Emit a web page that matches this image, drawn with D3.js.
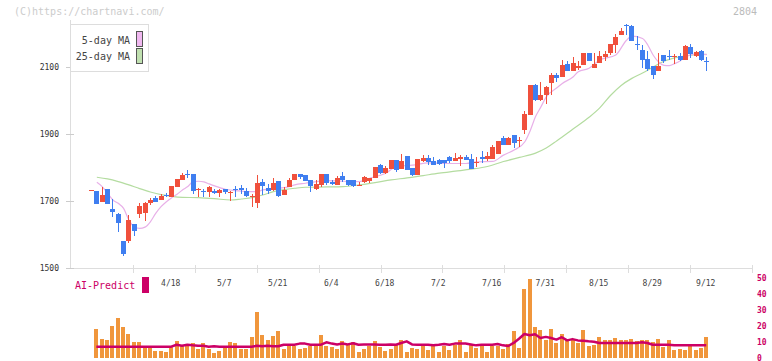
<!DOCTYPE html>
<html><head><meta charset="utf-8">
<script src="https://cdn.jsdelivr.net/npm/d3@7"></script>
<style>body{margin:0;background:#fff}svg{display:block}text{font-family:"DejaVu Sans Mono",monospace}</style>
</head><body><svg id="c" width="772" height="361"></svg>
<script>
const opens=[1732,1730,1698,1736,1676,1661,1581,1581,1631,1661,1665,1695,1710,1703,1719,1713,1743,1764,1780,1780,1732,1730,1728,1731,1725,1736,1723,1736,1739,1730,1713,1695,1758,1738,1733,1760,1718,1743,1763,1780,1777,1763,1736,1748,1780,1757,1749,1774,1762,1762,1746,1756,1761,1769,1807,1783,1797,1822,1796,1834,1799,1779,1818,1828,1820,1821,1822,1831,1820,1826,1832,1826,1814,1832,1826,1825,1840,1887,1868,1897,1879,1912,1957,2046,2001,2016,2053,2076,2071,2109,2089,2097,2107,2142,2097,2112,2129,2142,2167,2197,2226,2223,2169,2151,2124,2102,2089,2135,2132,2132,2134,2122,2160,2132,2149,2117];
const highs=[1733,1731,1741,1737,1706,1665,1582,1658,1632,1695,1696,1710,1716,1722,1725,1746,1767,1784,1793,1781,1738,1735,1746,1735,1736,1737,1729,1745,1748,1738,1720,1778,1765,1751,1769,1761,1743,1770,1781,1781,1778,1764,1763,1782,1781,1764,1774,1787,1763,1763,1757,1776,1770,1802,1810,1803,1823,1823,1840,1835,1800,1826,1836,1836,1831,1826,1823,1835,1842,1837,1837,1839,1830,1849,1846,1867,1880,1894,1890,1898,1892,1969,2047,2049,2056,2042,2081,2081,2121,2118,2129,2117,2143,2143,2142,2147,2149,2170,2199,2215,2229,2224,2192,2165,2147,2103,2142,2136,2151,2139,2142,2166,2169,2149,2150,2129];
const lows=[1732,1691,1697,1691,1653,1608,1537,1576,1596,1648,1640,1689,1697,1702,1713,1712,1742,1763,1768,1722,1713,1713,1713,1721,1713,1722,1700,1711,1720,1713,1683,1680,1718,1720,1730,1713,1717,1742,1762,1766,1759,1728,1733,1743,1748,1747,1748,1757,1744,1743,1746,1755,1754,1768,1780,1782,1796,1788,1795,1792,1774,1778,1817,1806,1807,1808,1800,1812,1819,1804,1821,1795,1802,1812,1820,1824,1839,1867,1867,1859,1862,1900,1956,2000,2000,1990,2016,2056,2070,2088,2088,2092,2106,2118,2096,2111,2119,2135,2142,2196,2197,2177,2152,2097,2089,2065,2088,2112,2122,2109,2119,2121,2127,2131,2117,2087];
const closes=[1733,1692,1718,1692,1668,1633,1543,1643,1611,1685,1695,1703,1698,1716,1714,1745,1766,1778,1777,1731,1735,1726,1742,1725,1733,1728,1728,1734,1733,1716,1715,1755,1746,1730,1754,1715,1733,1763,1780,1771,1760,1745,1751,1781,1753,1751,1769,1764,1749,1744,1747,1771,1769,1801,1784,1798,1822,1793,1820,1793,1779,1825,1828,1816,1808,1810,1812,1820,1829,1831,1822,1796,1817,1825,1833,1862,1879,1868,1888,1874,1883,1960,2046,2001,2016,2041,2076,2066,2106,2089,2112,2102,2142,2119,2109,2132,2139,2169,2190,2208,2223,2178,2167,2122,2095,2075,2104,2119,2129,2134,2122,2164,2140,2146,2122,2115];
const volumes=[null,
17.9,11.7,11.0,19.8,24.8,19.2,14.8,9.8,9.8,7.3,
7.3,4.2,4.2,3.5,7.3,10.4,7.9,7.9,9.2,5.4,
9.2,5.4,2.9,4.2,7.3,9.8,9.2,5.4,5.4,12.9,
28.5,14.2,11.0,13.5,16.7,5.4,7.3,7.3,5.4,6.0,
7.3,7.3,14.2,7.3,6.7,5.4,10.4,7.9,9.8,3.5,
5.4,7.3,10.4,6.7,4.2,5.4,8.3,11.0,3.5,6.0,
5.4,7.3,4.8,7.3,3.5,7.3,4.8,7.9,11.0,3.5,
7.9,6.0,7.9,3.5,7.3,7.3,5.4,8.5,16.7,6.0,
42.9,49.2,19.2,17.3,11.5,17.9,9.2,14.8,11.0,11.0,
9.2,17.3,7.3,7.9,12.9,11.0,11.0,12.3,11.5,11.0,
11.7,10.6,11.0,11.0,9.8,11.7,6.9,11.0,4.8,5.4,
4.8,7.3,4.8,6.0,12.9];
const predict=[null,
7.1,7.1,7.1,7.1,7.1,7.1,7.1,7.1,7.1,7.1,
7.1,7.1,7.1,7.1,7.1,8.3,7.6,8.3,7.9,7.6,
7.6,7.1,7.3,7.1,7.1,7.1,7.1,7.1,7.1,7.1,
7.6,7.3,7.6,7.3,7.3,8.3,8.3,8.3,9.0,9.0,
8.3,8.3,8.3,9.8,9.0,8.5,9.0,8.5,9.2,8.3,
8.5,8.5,8.5,8.3,8.3,8.5,8.3,9.4,10.4,8.5,
8.3,8.3,8.3,7.9,8.3,8.8,8.3,9.0,9.0,9.0,
8.5,7.9,8.3,8.3,8.3,8.8,7.9,7.5,9.4,12.0,
15.0,14.2,14.8,12.5,13.2,12.5,11.5,13.0,11.0,11.8,
11.0,10.8,10.4,10.2,9.4,9.4,9.4,9.4,9.4,9.4,
9.4,9.4,9.8,9.4,8.3,8.3,8.3,8.3,7.9,7.9,
7.9,7.9,7.9,7.9,7.9];
const ma5Idx=[1,2,3,4,5,6,7,8,9,10,11,12,13,14,15,16,17,18,19,20,21,22,23,25,27,29,31,32,35,37,38,40,42,44,47,50,52,55,57,60,63,66,70,72,75,77,79,81,82,83,84,85,87,88,90,91,93,95,98,100,101,103,104,105,106,107,108,109,110,111,112,113,115];
const ma5Val=[1756,1743,1723,1703,1693,1678,1643,1623,1618,1622,1638,1663,1683,1698,1710,1720,1733,1743,1758,1759,1757,1751,1745,1735,1731,1728,1728,1733,1738,1743,1748,1753,1758,1761,1759,1758,1768,1783,1803,1807,1814,1812,1812,1817,1818,1837,1852,1877,1910,1952,1981,2011,2038,2051,2070,2086,2096,2121,2136,2180,2192,2185,2165,2135,2115,2105,2104,2110,2118,2130,2136,2139,2137];
const ma25Idx=[1,3,5,7,9,11,13,15,17,20,23,26,28,30,32,34,36,38,40,44,47,50,53,56,59,62,65,68,71,74,77,80,83,85,87,90,93,95,97,99,101,103,105,107,109,112,115];
const ma25Val=[1771,1766,1758,1748,1737,1727,1719,1714,1711,1710,1707,1703,1706,1710,1718,1728,1734,1738,1741,1742,1743,1748,1755,1763,1769,1776,1783,1789,1795,1803,1818,1830,1843,1858,1880,1915,1950,1978,2015,2045,2066,2082,2100,2117,2127,2135,2138];
const xTickIdx=[15,25,35,45,55,65,75,85,95,105,115];
const xTickLabels=["4/18","5/7","5/21","6/4","6/18","7/2","7/16","7/31","8/15","8/29","9/12"];
const yTicks=[1500,1700,1900,2100];
const volTicks=[0,10,20,30,40,50];

const RED="#f0503c", BLUE="#3f7ef0", ORANGE="#f0963c", MAG="#cc0066";
const svg=d3.select("#c");
svg.append("rect").attr("width",772).attr("height",361).attr("fill","#fff");
const x=d3.scaleLinear().domain([0,115]).range([91.5,706.75]);
const y=d3.scaleLinear().domain([1500,2100]).range([268,67]);
const yv=d3.scaleLinear().domain([0,50]).range([358,278]);
const grid=d3.scaleLinear().domain([0,11]).range([71,752]);
const fx=i=>Math.floor(x(i));

// watermark
svg.append("text").attr("x",14).attr("y",12).attr("dominant-baseline","middle").attr("font-size",10).attr("fill","#ccc").text("(C)https://chartnavi.com/");
svg.append("text").attr("x",757).attr("y",12).attr("dominant-baseline","middle").attr("text-anchor","end").attr("font-size",10).attr("fill","#bbb").text("2804");

// axes
svg.append("line").attr("x1",70.5).attr("x2",70.5).attr("y1",20).attr("y2",268).attr("stroke","#ddd");
svg.append("line").attr("x1",70).attr("x2",752).attr("y1",268.5).attr("y2",268.5).attr("stroke","#ddd");
svg.selectAll(".gt").data(d3.range(1,12)).join("line")
  .attr("x1",d=>Math.round(grid(d))+0.5).attr("x2",d=>Math.round(grid(d))+0.5)
  .attr("y1",265).attr("y2",273).attr("stroke","#ddd");
svg.selectAll(".yt").data(yTicks).join("line")
  .attr("x1",66).attr("x2",74).attr("y1",d=>Math.round(y(d))+0.5).attr("y2",d=>Math.round(y(d))+0.5).attr("stroke","#ccc");
svg.selectAll(".yl").data(yTicks).join("text")
  .attr("x",59).attr("y",d=>y(d)).attr("dominant-baseline","middle").attr("text-anchor","end")
  .attr("font-size",8).attr("fill","#333").text(d=>d);
svg.selectAll(".xl").data(xTickIdx).join("text")
  .attr("x",d=>x(d)-1).attr("y",283).attr("dominant-baseline","middle").attr("text-anchor","middle")
  .attr("font-size",8).attr("fill","#444").text((d,i)=>xTickLabels[i]);

// MA lines
const maLine=d3.line().x(d=>x(d[0])).y(d=>y(d[1])).curve(d3.curveMonotoneX);
svg.append("path").attr("d",maLine(ma25Idx.map((d,i)=>[d,ma25Val[i]]))).attr("fill","none").attr("stroke","#b4dca0").attr("stroke-width",1.2);
svg.append("path").attr("d",maLine(ma5Idx.map((d,i)=>[d,ma5Val[i]]))).attr("fill","none").attr("stroke","#e8b0e8").attr("stroke-width",1.2);

// candles
const idx=d3.range(opens.length);
const g=svg.append("g").attr("shape-rendering","crispEdges");
g.selectAll(".w").data(idx).join("line")
  .attr("x1",i=>fx(i)+0.5).attr("x2",i=>fx(i)+0.5)
  .attr("y1",i=>y(highs[i])).attr("y2",i=>y(lows[i]))
  .attr("stroke",i=>closes[i]>=opens[i]?RED:BLUE);
g.selectAll(".b").data(idx).join("rect")
  .attr("x",i=>fx(i)-2).attr("width",5)
  .attr("y",i=>y(Math.max(opens[i],closes[i])))
  .attr("height",i=>Math.max(1,Math.abs(y(opens[i])-y(closes[i]))))
  .attr("fill",i=>closes[i]>=opens[i]?RED:BLUE);

// legend
svg.append("rect").attr("x",70.5).attr("y",24.5).attr("width",78).attr("height",47).attr("fill","#fff").attr("stroke","#ddd");
[["5-day MA","#f0b8f0",40.5,31.5],["25-day MA","#c0e0b0",56.5,48.5]].forEach(l=>{
  svg.append("text").attr("x",130).attr("y",l[2]).attr("dominant-baseline","middle").attr("text-anchor","end").attr("font-size",10).attr("fill","#444").text(l[0]);
  svg.append("rect").attr("x",136.5).attr("y",l[3]).attr("width",6).attr("height",15).attr("fill",l[1]).attr("stroke","#555");
});

// volume panel
svg.append("text").attr("x",75).attr("y",286).attr("dominant-baseline","middle").attr("font-size",10).attr("fill",MAG).text("AI-Predict");
svg.append("rect").attr("x",142).attr("y",277).attr("width",7).attr("height",16).attr("fill",MAG);
svg.append("g").attr("shape-rendering","crispEdges").selectAll("rect").data(idx.filter(i=>volumes[i]!=null)).join("rect")
  .attr("x",i=>fx(i)-2).attr("width",4)
  .attr("y",i=>yv(volumes[i])).attr("height",i=>yv(0)-yv(volumes[i])).attr("fill",ORANGE);
const pl=d3.line().defined(d=>d!=null).x((d,i)=>x(i)-0.5).y(d=>yv(d));
svg.append("path").attr("d",pl(predict)).attr("fill","none").attr("stroke",MAG).attr("stroke-width",2.5).attr("stroke-linejoin","round");
svg.selectAll(".vl").data(volTicks).join("text")
  .attr("x",757).attr("y",d=>yv(d)).attr("dominant-baseline","middle")
  .attr("font-size",8).attr("font-weight","bold").attr("fill",MAG).text(d=>d);
</script></body></html>
